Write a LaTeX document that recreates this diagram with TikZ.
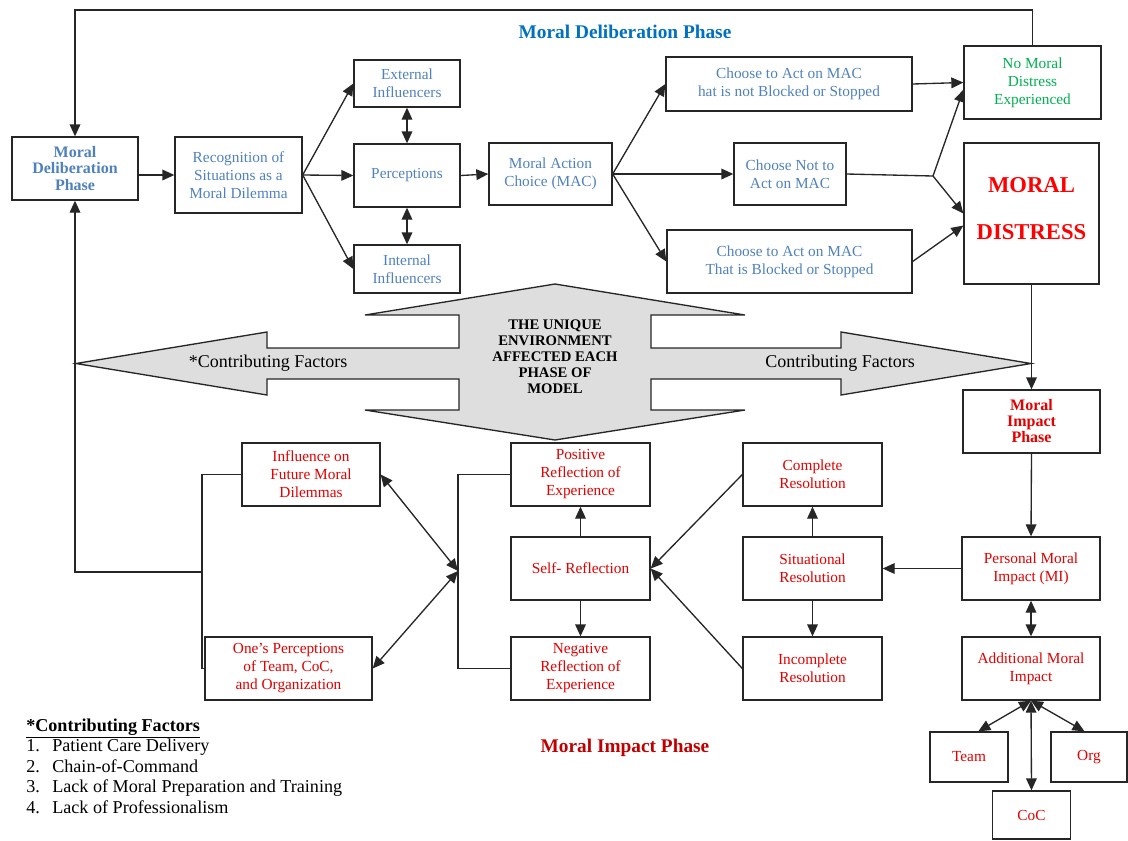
\documentclass[tikz,border=0pt]{standalone}
\usepackage{fontspec}
\setmainfont{Liberation Serif}
\usetikzlibrary{arrows.meta}
\definecolor{mdblue}{RGB}{79,129,189}
\definecolor{ttlblue}{RGB}{0,112,192}
\definecolor{mdgreen}{RGB}{0,176,80}
\definecolor{mdred}{RGB}{226,0,0}
\definecolor{ttlred}{RGB}{192,0,0}
\definecolor{envgray}{RGB}{222,222,222}
\begin{document}
\begin{tikzpicture}[x=0.75pt,y=0.75pt,yscale=-1,xscale=1,
  box/.style={draw=black!85,line width=1pt,align=center,inner sep=1pt,font=\fontsize{11.5}{13.5}\selectfont},
  sz/.style 2 args={minimum width=#1*0.75pt,minimum height=#2*0.75pt},
  bluebox/.style={box,text=mdblue},
  redbox/.style={box,text=mdred},
  conn/.style={draw=black!85,line width=1pt},
  arr/.style={conn,-{Triangle[length=9pt,width=8pt]}},
  darr/.style={conn,{Triangle[length=9pt,width=8pt]}-{Triangle[length=9pt,width=8pt]}}]
\useasboundingbox (0,0) rectangle (1128,840);

%Shape: Four way arrow (environment)
\draw [conn,fill=envgray] (555,284) -- (745,315) -- (651,315) -- (651,348) -- (841,348) -- (841,332) -- (1031,363.5) -- (841,395) -- (841,379) -- (651,379) -- (651,410) -- (745,410) -- (555,440) -- (365,410) -- (459,410) -- (459,379) -- (267,379) -- (267,395) -- (76,363.5) -- (267,332) -- (267,348) -- (459,348) -- (459,315) -- (365,315) -- cycle ;

% Text Node
\node [font=\bfseries\fontsize{11}{12}\selectfont,align=center] (env) at (555,357) {THE UNIQUE\\ENVIRONMENT\\AFFECTED EACH\\PHASE OF\\MODEL};
% Text Node
\node [font=\fontsize{13.5}{15}\selectfont] (cfl) at (268,363) {*Contributing Factors};
% Text Node
\node [font=\fontsize{13.5}{15}\selectfont] (cfr) at (840,363) {Contributing Factors};
% Text Node
\node [font=\bfseries\fontsize{14.5}{16}\selectfont,text=ttlblue] (ttl1) at (625,32) {Moral Deliberation Phase};
% Text Node
\node [font=\bfseries\fontsize{14.5}{16}\selectfont,text=ttlred] (ttl2) at (625,748) {Moral Impact Phase};

%Shape: Rectangle (deliberation phase)
\node [bluebox,sz={126}{63},font=\bfseries\fontsize{12}{12.5}\selectfont] (mdp) at (75,168.5) {Moral\\Deliberation\\Phase};
\node [bluebox,sz={127}{76}] (recog) at (238.5,175) {Recognition of\\Situations as a\\Moral Dilemma};
\node [bluebox,sz={106}{47}] (ext) at (407,83.5) {External\\Influencers};
\node [bluebox,sz={106}{63}] (perc) at (407,175.5) {Perceptions};
\node [bluebox,sz={106}{48}] (int) at (407,269) {Internal\\Influencers};
\node [bluebox,sz={123}{62}] (mac) at (550.5,174) {Moral Action\\Choice (MAC)};
\node [bluebox,sz={246}{54}] (actok) at (789,84) {Choose to Act on MAC\\hat is not Blocked or Stopped};
\node [bluebox,sz={112}{62}] (notact) at (790,174) {Choose Not to\\Act on MAC};
\node [bluebox,sz={245}{63}] (actblk) at (789.5,261.5) {Choose to Act on MAC\\That is Blocked or Stopped};
\node [box,sz={137}{73},text=mdgreen] (nomd) at (1032.5,82.5) {No Moral\\Distress\\Experienced};
\node [box,sz={135}{141},text=red,font=\bfseries\fontsize{17}{35}\selectfont] (md) at (1031.5,213.5) {MORAL\\DISTRESS\\[-27.5pt]\mbox{}};

%Shape: Rectangle (impact phase)
\node [redbox,sz={137}{63},font=\bfseries\fontsize{12}{12}\selectfont] (mip) at (1031.5,421.5) {Moral\\Impact\\Phase};
\node [redbox,sz={138}{63}] (pmi) at (1031,568.5) {Personal Moral\\Impact (MI)};
\node [redbox,sz={138}{63}] (ami) at (1031,668.5) {Additional Moral\\Impact};
\node [redbox,sz={78}{50}] (team) at (969,757) {Team};
\node [redbox,sz={78}{48}] (coc) at (1031.5,815) {CoC};
\node [redbox,sz={76}{50}] (org) at (1089,757) {Org};
\node [redbox,sz={139}{63}] (sit) at (812.5,568.5) {Situational\\Resolution};
\node [redbox,sz={139}{63}] (comp) at (812.5,474.5) {Complete\\Resolution};
\node [redbox,sz={139}{63}] (inc) at (812.5,668.5) {Incomplete\\Resolution};
\node [redbox,sz={139}{63}] (self) at (580.5,568.5) {Self- Reflection};
\node [redbox,sz={139}{63}] (pos) at (580.5,474.5) {Positive\\Reflection of\\Experience};
\node [redbox,sz={139}{63}] (neg) at (580.5,668.5) {Negative\\Reflection of\\Experience};
\node [redbox,sz={138}{63}] (infl) at (311,474.5) {Influence on\\Future Moral\\Dilemmas};
\node [redbox,sz={167}{63}] (oneper) at (288.5,668.5) {One's Perceptions\\of Team, CoC,\\and Organization};

% Text Node
\node [anchor=north west,inner sep=0pt,align=left,font=\fontsize{13.6}{15.4}\selectfont] (legend) at (26,718.5) {\underline{\textbf{*Contributing Factors}}\\\makebox[19.5pt][l]{1.}Patient Care Delivery\\\makebox[19.5pt][l]{2.}Chain-of-Command\\\makebox[19.5pt][l]{3.}Lack of Moral Preparation and Training\\\makebox[19.5pt][l]{4.}Lack of Professionalism};

\coordinate (top) at (0,10);
\coordinate (jn) at (933,176);
\coordinate (hub) at (458,571);
\coordinate (lj) at (202,572);

%Straight Lines
\draw [arr] (nomd.north) -- (nomd.north |- top) -| (mdp.north) ;
\draw [arr] (mdp.east |- recog.west) -- (recog.west) ;
\draw [arr] (recog.east) -- (ext.west) ;
\draw [arr] (recog.east) -- (perc.west) ;
\draw [arr] (recog.east) -- (int.west) ;
\draw [darr] (ext.south) -- (perc.north) ;
\draw [darr] (perc.south) -- (int.north) ;
\draw [arr] (perc.east) -- (mac.west) ;
\draw [arr] (mac.east) -- (actok.west) ;
\draw [arr] (mac.east) -- (notact.west) ;
\draw [arr] (mac.east) -- (actblk.west) ;
\draw [arr] (actok.east) -- (nomd.west) ;
\draw [conn] (notact.east) -- (jn) ;
\draw [arr] (jn) -- (nomd.186) ;
\draw [arr] (jn) -- (md.west) ;
\draw [arr] (actblk.east) -- (md.190) ;
\draw [arr] (md.south) -- (mip.north) ;
\draw [arr] (mip.south) -- (pmi.north) ;
\draw [darr] (pmi.south) -- (ami.north) ;
\draw [darr] (ami.south) -- (team.70) ;
\draw [darr] (ami.south) -- (coc.north) ;
\draw [darr] (ami.south) -- (org.100) ;
\draw [arr] (pmi.west) -- (sit.east) ;
\draw [arr] (sit.north) -- (comp.south) ;
\draw [arr] (sit.south) -- (inc.north) ;
\draw [arr] (comp.west) -- (self.east) ;
\draw [arr] (inc.west) -- (self.east) ;
\draw [arr] (self.north) -- (pos.south) ;
\draw [arr] (self.south) -- (neg.north) ;
\draw [conn] (pos.west) -| (hub) ;
\draw [conn] (neg.west) -| (hub) ;
\draw [darr] (hub) -- (infl.east) ;
\draw [darr] (hub) -- (oneper.east) ;
\draw [conn] (infl.west) -| (lj) ;
\draw [conn] (oneper.west) -| (lj) ;
\draw [arr] (lj) -| (mdp.south) ;

\end{tikzpicture}
\end{document}
